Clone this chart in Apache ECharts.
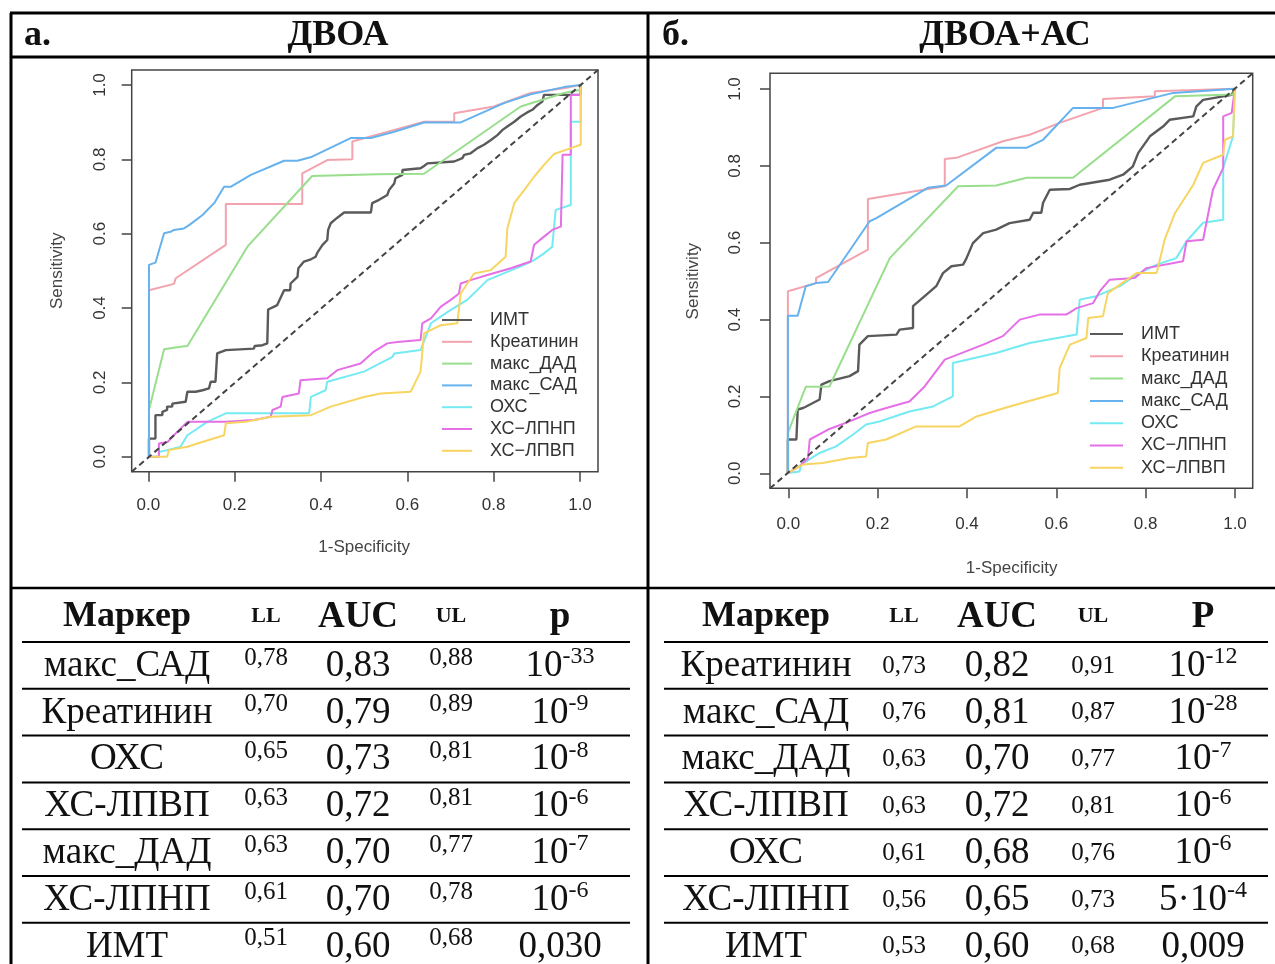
<!DOCTYPE html>
<html>
<head>
<meta charset="utf-8">
<script src="https://cdn.jsdelivr.net/npm/echarts@6/dist/echarts.min.js"></script>
<style>
  html, body { margin: 0; padding: 0; background: #ffffff; }
  #chart { width: 1275px; height: 964px; }
</style>
</head>
<body>
<div id="chart"></div>
<script>
// ---- ROC curves: [1-Specificity, Sensitivity] ----
const markerNames = ['ИМТ', 'Креатинин', 'макс_ДАД', 'макс_САД', 'ОХС', 'ХС−ЛПНП', 'ХС−ЛПВП'];
const markerColors = ['#5a5a5a', '#f3a3ae', '#98de8c', '#66b2ee', '#74eaf2', '#e56fe6', '#f8d560'];

// panel а. ДВОА
const rocA_IMT = [[0,0],[0,0.049],[0.015,0.049],[0.015,0.112],[0.031,0.112],[0.031,0.121],[0.042,0.126],[0.042,0.135],[0.054,0.135],[0.054,0.143],[0.085,0.148],[0.089,0.175],[0.108,0.175],[0.112,0.179],[0.124,0.179],[0.124,0.184],[0.139,0.184],[0.143,0.202],[0.154,0.202],[0.158,0.278],[0.178,0.287],[0.181,0.291],[0.243,0.291],[0.245,0.298],[0.263,0.300],[0.274,0.305],[0.276,0.396],[0.290,0.404],[0.297,0.408],[0.313,0.448],[0.327,0.448],[0.328,0.466],[0.344,0.484],[0.346,0.507],[0.359,0.525],[0.375,0.531],[0.386,0.538],[0.390,0.549],[0.402,0.570],[0.413,0.583],[0.415,0.610],[0.421,0.628],[0.432,0.639],[0.440,0.646],[0.452,0.657],[0.514,0.657],[0.517,0.682],[0.533,0.691],[0.552,0.704],[0.556,0.717],[0.568,0.735],[0.571,0.749],[0.587,0.758],[0.587,0.771],[0.629,0.776],[0.637,0.782],[0.645,0.789],[0.707,0.794],[0.710,0.798],[0.726,0.803],[0.730,0.812],[0.745,0.816],[0.761,0.830],[0.776,0.839],[0.792,0.852],[0.807,0.865],[0.819,0.879],[0.830,0.888],[0.846,0.901],[0.861,0.915],[0.876,0.926],[0.888,0.933],[0.900,0.946],[0.911,0.955],[0.915,0.973],[1,0.973],[1,1]];
const rocA_Creat = [[0,0],[0,0.448],[0.058,0.465],[0.062,0.480],[0.178,0.570],[0.178,0.680],[0.355,0.680],[0.355,0.762],[0.413,0.798],[0.471,0.800],[0.471,0.848],[0.568,0.879],[0.637,0.901],[0.707,0.901],[0.707,0.924],[0.799,0.942],[0.884,0.978],[0.961,0.991],[1,1]];
const rocA_DAD = [[0,0],[0,0.126],[0.035,0.289],[0.073,0.296],[0.089,0.298],[0.228,0.565],[0.378,0.755],[0.529,0.760],[0.637,0.761],[0.861,0.942],[0.961,0.978],[1,0.987],[1,1]];
const rocA_SAD = [[0,0],[0,0.516],[0.015,0.522],[0.035,0.601],[0.050,0.605],[0.058,0.610],[0.081,0.614],[0.093,0.623],[0.124,0.650],[0.151,0.682],[0.174,0.726],[0.189,0.726],[0.236,0.758],[0.313,0.796],[0.344,0.796],[0.378,0.807],[0.467,0.857],[0.514,0.857],[0.568,0.874],[0.637,0.899],[0.722,0.899],[0.822,0.951],[0.884,0.975],[0.961,0.994],[1,1]];
const rocA_OHS = [[0,0],[0.023,0],[0.023,0.013],[0.042,0.018],[0.073,0.027],[0.089,0.058],[0.135,0.094],[0.178,0.117],[0.371,0.117],[0.375,0.161],[0.409,0.179],[0.413,0.202],[0.498,0.229],[0.564,0.269],[0.568,0.278],[0.629,0.287],[0.653,0.359],[0.699,0.395],[0.737,0.422],[0.784,0.475],[0.869,0.516],[0.892,0.529],[0.915,0.547],[0.934,0.565],[0.942,0.664],[0.977,0.677],[0.977,0.901],[1,0.901],[1,1]];
const rocA_LDL = [[0,0],[0.023,0],[0.023,0.036],[0.043,0.040],[0.062,0.063],[0.089,0.094],[0.178,0.094],[0.243,0.099],[0.282,0.108],[0.286,0.126],[0.305,0.135],[0.309,0.161],[0.347,0.170],[0.351,0.206],[0.413,0.211],[0.436,0.233],[0.490,0.251],[0.521,0.283],[0.552,0.305],[0.575,0.309],[0.629,0.314],[0.633,0.359],[0.653,0.372],[0.676,0.404],[0.699,0.422],[0.718,0.439],[0.722,0.466],[0.745,0.475],[0.784,0.489],[0.838,0.507],[0.884,0.525],[0.892,0.570],[0.915,0.592],[0.934,0.610],[0.954,0.619],[0.958,0.812],[0.977,0.812],[0.977,0.973],[1,0.973],[1,1]];
const rocA_HDL = [[0,0],[0.042,0],[0.046,0.018],[0.089,0.027],[0.112,0.036],[0.174,0.058],[0.178,0.090],[0.224,0.094],[0.282,0.108],[0.375,0.112],[0.421,0.135],[0.498,0.161],[0.537,0.170],[0.606,0.175],[0.629,0.229],[0.637,0.332],[0.676,0.354],[0.714,0.359],[0.722,0.439],[0.753,0.493],[0.792,0.502],[0.826,0.538],[0.830,0.614],[0.846,0.682],[0.869,0.717],[0.892,0.753],[0.915,0.785],[0.938,0.814],[0.977,0.830],[1,0.839],[1,1]];

// panel б. ДВОА+АС
const rocB_IMT = [[0,0],[0,0.087],[0.019,0.087],[0.022,0.165],[0.034,0.169],[0.041,0.173],[0.056,0.182],[0.071,0.191],[0.075,0.230],[0.093,0.239],[0.138,0.252],[0.157,0.265],[0.160,0.334],[0.179,0.356],[0.243,0.360],[0.250,0.373],[0.280,0.377],[0.280,0.434],[0.310,0.464],[0.332,0.486],[0.347,0.520],[0.366,0.538],[0.392,0.542],[0.399,0.557],[0.414,0.598],[0.437,0.624],[0.466,0.633],[0.496,0.650],[0.541,0.659],[0.549,0.677],[0.567,0.677],[0.571,0.703],[0.586,0.737],[0.631,0.739],[0.653,0.750],[0.720,0.763],[0.750,0.776],[0.772,0.798],[0.784,0.833],[0.810,0.876],[0.840,0.902],[0.854,0.919],[0.907,0.928],[0.914,0.954],[0.929,0.971],[0.993,0.984],[1,1]];
const rocB_Creat = [[0,0],[0,0.473],[0.063,0.494],[0.063,0.507],[0.179,0.581],[0.179,0.713],[0.351,0.746],[0.351,0.817],[0.377,0.820],[0.481,0.863],[0.541,0.880],[0.608,0.911],[0.705,0.950],[0.705,0.973],[0.821,0.980],[0.821,0.993],[1,1]];
const rocB_DAD = [[0,0],[0,0.104],[0.040,0.224],[0.093,0.225],[0.228,0.559],[0.381,0.746],[0.466,0.748],[0.534,0.768],[0.638,0.768],[0.866,0.980],[0.996,0.985],[1,1]];
const rocB_SAD = [[0,0],[0,0.409],[0.022,0.409],[0.040,0.486],[0.063,0.494],[0.090,0.497],[0.183,0.655],[0.198,0.663],[0.313,0.742],[0.354,0.748],[0.466,0.846],[0.534,0.846],[0.571,0.867],[0.638,0.950],[0.728,0.950],[0.862,0.989],[1,1]];
const rocB_OHS = [[0,0],[0.026,0.004],[0.030,0.022],[0.071,0.052],[0.108,0.069],[0.146,0.100],[0.175,0.126],[0.205,0.134],[0.272,0.160],[0.325,0.173],[0.369,0.199],[0.369,0.286],[0.466,0.312],[0.541,0.338],[0.646,0.360],[0.653,0.451],[0.690,0.460],[0.743,0.486],[0.780,0.516],[0.825,0.542],[0.869,0.559],[0.892,0.603],[0.929,0.651],[0.974,0.659],[0.974,0.794],[0.996,0.876],[1,1]];
const rocB_LDL = [[0,0],[0.026,0.017],[0.045,0.039],[0.049,0.087],[0.090,0.113],[0.138,0.134],[0.183,0.156],[0.220,0.169],[0.272,0.186],[0.306,0.225],[0.351,0.295],[0.437,0.334],[0.481,0.356],[0.519,0.399],[0.563,0.412],[0.623,0.412],[0.646,0.429],[0.683,0.442],[0.698,0.473],[0.720,0.503],[0.776,0.507],[0.802,0.533],[0.884,0.551],[0.892,0.603],[0.929,0.607],[0.951,0.737],[0.974,0.794],[0.974,0.928],[0.993,0.937],[1,1]];
const rocB_HDL = [[0,0],[0.034,0.022],[0.078,0.026],[0.138,0.039],[0.175,0.043],[0.179,0.078],[0.220,0.087],[0.287,0.121],[0.384,0.121],[0.422,0.147],[0.496,0.173],[0.604,0.208],[0.608,0.273],[0.631,0.334],[0.668,0.351],[0.672,0.403],[0.705,0.408],[0.716,0.468],[0.780,0.520],[0.825,0.520],[0.843,0.607],[0.866,0.676],[0.907,0.750],[0.929,0.807],[0.974,0.828],[0.978,0.867],[0.996,0.876],[1,1]];

// ---- summary tables ----
const headA = ['Маркер', 'LL', 'AUC', 'UL', 'p'];
const namesA = ['макс_САД', 'Креатинин', 'ОХС', 'ХС-ЛПВП', 'макс_ДАД', 'ХС-ЛПНП', 'ИМТ'];
const llA  = ['0,78', '0,70', '0,65', '0,63', '0,63', '0,61', '0,51'];
const aucA = ['0,83', '0,79', '0,73', '0,72', '0,70', '0,70', '0,60'];
const ulA  = ['0,88', '0,89', '0,81', '0,81', '0,77', '0,78', '0,68'];
const pBaseA = ['10', '10', '10', '10', '10', '10', '0,030'];
const pExpA  = ['-33', '-9', '-8', '-6', '-7', '-6', ''];

const headB = ['Маркер', 'LL', 'AUC', 'UL', 'P'];
const namesB = ['Креатинин', 'макс_САД', 'макс_ДАД', 'ХС-ЛПВП', 'ОХС', 'ХС-ЛПНП', 'ИМТ'];
const llB  = ['0,73', '0,76', '0,63', '0,63', '0,61', '0,56', '0,53'];
const aucB = ['0,82', '0,81', '0,70', '0,72', '0,68', '0,65', '0,60'];
const ulB  = ['0,91', '0,87', '0,77', '0,81', '0,76', '0,73', '0,68'];
const pBaseB = ['10', '10', '10', '10', '10', '5·10', '0,009'];
const pExpB  = ['-12', '-28', '-7', '-6', '-6', '-4', ''];

const panelTitles = [['а.', 'ДВОА'], ['б.', 'ДВОА+АС']];

// ---- layout ----
const SERIF = '"Liberation Serif", "Times New Roman", serif';
const SANS = '"Liberation Sans", Arial, Helvetica, sans-serif';
const INK = '#111';
const TICK = 10;   // tick length, px (ticks run from the scale grid edge up to the plot box)

const chart = echarts.init(document.getElementById('chart'), null, { renderer: 'canvas' });

const rocA = [rocA_IMT, rocA_Creat, rocA_DAD, rocA_SAD, rocA_OHS, rocA_LDL, rocA_HDL];
const rocB = [rocB_IMT, rocB_Creat, rocB_DAD, rocB_SAD, rocB_OHS, rocB_LDL, rocB_HDL];

function rocSeries(sets, gi) {
  const out = sets.map((d, i) => ({
    type: 'line', name: markerNames[i], xAxisIndex: gi, yAxisIndex: gi,
    data: d, symbol: 'none', smooth: false, silent: true,
    lineStyle: { color: markerColors[i], width: i === 0 ? 2.4 : 2 },
    itemStyle: { color: markerColors[i] },
    z: 2
  }));
  out.push({
    type: 'line', name: 'diag' + gi, xAxisIndex: gi, yAxisIndex: gi,
    data: [[-0.04, -0.04], [1.04, 1.04]], symbol: 'none', silent: true,
    lineStyle: { color: '#444', width: 2, type: [6, 4] }, z: 3
  });
  return out;
}

// data axes: plotted range padded by 4% on each side (hidden)
function dataAxis(gi) {
  return { type: 'value', gridIndex: gi, min: -0.04, max: 1.04, show: false };
}
// hidden partner axis of a scale grid
function partnerAxis(gi) {
  return { type: 'value', gridIndex: gi, min: 0, max: 1, show: false };
}
// scale axes 0..1: grid edge lies TICK px outside the plot box, ticks drawn inward to the box
function scaleX(gi, margin, gap) {
  return {
    type: 'value', gridIndex: gi, min: 0, max: 1, interval: 0.2, position: 'bottom',
    axisLine: { show: false, onZero: false },
    splitLine: { show: false },
    axisTick: { show: true, inside: true, length: TICK, lineStyle: { color: '#444', width: 1.5 } },
    axisLabel: { formatter: v => v.toFixed(1), margin: margin, fontSize: 17, fontFamily: SANS, color: '#333' },
    name: '1-Specificity', nameLocation: 'middle', nameGap: gap,
    nameTextStyle: { fontSize: 17, fontFamily: SANS, color: '#444' }
  };
}
function scaleY(gi, margin, gap) {
  return {
    type: 'value', gridIndex: gi, min: 0, max: 1, interval: 0.2, position: 'left',
    axisLine: { show: false, onZero: false },
    splitLine: { show: false },
    axisTick: { show: true, inside: true, length: TICK, lineStyle: { color: '#444', width: 1.5 } },
    axisLabel: { formatter: v => v.toFixed(1), margin: margin, rotate: 90, fontSize: 17, fontFamily: SANS, color: '#333' },
    name: 'Sensitivity', nameLocation: 'middle', nameGap: gap,
    nameTextStyle: { fontSize: 17, fontFamily: SANS, color: '#444' }
  };
}

function legendFor(left, top, gap, width) {
  return {
    data: markerNames, orient: 'vertical', left: left, top: top,
    icon: 'rect', itemWidth: width, itemHeight: 2, itemGap: gap, selectedMode: false,
    textStyle: { fontSize: 18, fontFamily: SANS, color: '#333', lineHeight: 18, padding: [0, 0, 0, 13] }
  };
}

// ---- frame, headers and tables as graphic elements ----
const graphics = [];
function hline(x1, x2, y, w) {
  graphics.push({ type: 'line', shape: { x1: x1, y1: y, x2: x2, y2: y }, style: { stroke: '#000', lineWidth: w }, z: 10 });
}
function vline(x, y1, y2, w) {
  graphics.push({ type: 'line', shape: { x1: x, y1: y1, x2: x, y2: y2 }, style: { stroke: '#000', lineWidth: w }, z: 10 });
}
function txt(x, y, text, size, bold, extra) {
  graphics.push(Object.assign({
    type: 'text', x: x, y: y, z: 10,
    style: { x: 0, y: 0, text: text, fill: INK, fontSize: size, fontFamily: SERIF,
             fontWeight: bold ? 'bold' : 'normal',
             align: 'center', textAlign: 'center', verticalAlign: 'middle', textVerticalAlign: 'middle' }
  }, extra || {}));
}
function pText(x, y, base, exp) {
  if (!exp) { txt(x, y, base, 37, false); return; }
  graphics.push({
    type: 'text', x: x, y: y, z: 10,
    style: {
      x: 0, y: 0, text: '{n|' + base + '}{s|' + exp + '}',
      align: 'center', textAlign: 'center', verticalAlign: 'middle', textVerticalAlign: 'middle',
      rich: {
        n: { fontSize: 37, fontFamily: SERIF, fill: INK, lineHeight: 42 },
        s: { fontSize: 24, fontFamily: SERIF, fill: INK, lineHeight: 24, verticalAlign: 'top' }
      }
    }
  });
}

// outer grid of the figure
hline(10, 1275, 13, 3);
hline(10, 1275, 57, 3);
hline(10, 1275, 588, 2.5);
vline(11, 13, 964, 3);
vline(648, 13, 964, 3);

// panel headers
graphics.push({ type: 'text', x: 24, y: 36, z: 10, style: { x: 0, y: 0, text: panelTitles[0][0], fill: INK, fontSize: 36, fontWeight: 'bold', fontFamily: SERIF, align: 'left', textAlign: 'left', verticalAlign: 'middle', textVerticalAlign: 'middle' } });
txt(338, 36, panelTitles[0][1], 36, true);
graphics.push({ type: 'text', x: 662, y: 36, z: 10, style: { x: 0, y: 0, text: panelTitles[1][0], fill: INK, fontSize: 36, fontWeight: 'bold', fontFamily: SERIF, align: 'left', textAlign: 'left', verticalAlign: 'middle', textVerticalAlign: 'middle' } });
txt(1005, 36, panelTitles[1][1], 36, true);

function buildTable(cols, lineX1, lineX2, head, names, ll, auc, ul, pBase, pExp, raisedLimits) {
  const headY = 617, firstLine = 642, step = 46.8;
  txt(cols[0], headY, head[0], 36, true);
  txt(cols[1], headY - 1, head[1], 22, true);
  txt(cols[2], headY, head[2], 37, true);
  txt(cols[3], headY - 1, head[3], 22, true);
  txt(cols[4], headY, head[4], 37, true);
  for (let i = 0; i < names.length; i++) {
    const ly = firstLine + i * step;
    hline(lineX1, lineX2, ly, 2);
    const cy = ly + 24;
    const sy = raisedLimits ? cy - 8 : cy;
    txt(cols[0], cy, names[i], 37, false);
    txt(cols[1], sy, ll[i], 25, false);
    txt(cols[2], cy, auc[i], 37, false);
    txt(cols[3], sy, ul[i], 25, false);
    pText(cols[4], cy, pBase[i], pExp[i]);
  }
}
buildTable([127, 266, 358, 451, 560], 22, 630, headA, namesA, llA, aucA, ulA, pBaseA, pExpA, true);
buildTable([766, 904, 997, 1093, 1203], 664, 1268, headB, namesB, llB, aucB, ulB, pBaseB, pExpB, false);

const option = {
  backgroundColor: '#ffffff',
  animation: false,
  grid: [
    // 0,1: plot boxes (padded range)
    { left: 131.7, top: 70, width: 466.3, height: 401.7, show: true, borderColor: '#444', borderWidth: 1.5, backgroundColor: 'transparent' },
    { left: 770, top: 73.3, width: 482.7, height: 415, show: true, borderColor: '#444', borderWidth: 1.5, backgroundColor: 'transparent' },
    // 2,3: panel а. scale grids (Sensitivity on the left, 1-Specificity at the bottom)
    { left: 131.7 - TICK, top: 85, width: 466.3 + TICK, height: 371.7, show: false },
    { left: 148.3, top: 70, width: 431.7, height: 401.7 + TICK, show: false },
    // 4,5: panel б. scale grids
    { left: 770 - TICK, top: 89, width: 482.7 + TICK, height: 384.3, show: false },
    { left: 788.3, top: 73.3, width: 446.7, height: 415 + TICK, show: false }
  ],
  xAxis: [dataAxis(0), dataAxis(1), partnerAxis(2), scaleX(3, 15, 57), partnerAxis(4), scaleX(5, 18, 62)],
  yAxis: [dataAxis(0), dataAxis(1), scaleY(2, 13, 56), partnerAxis(3), scaleY(4, 16, 58), partnerAxis(5)],
  legend: [legendFor(437, 306, 3.8, 30), legendFor(1085, 320, 4.3, 33)],
  series: rocSeries(rocA, 0).concat(rocSeries(rocB, 1)),
  graphic: { elements: graphics }
};
chart.setOption(option);
</script>
</body>
</html>
